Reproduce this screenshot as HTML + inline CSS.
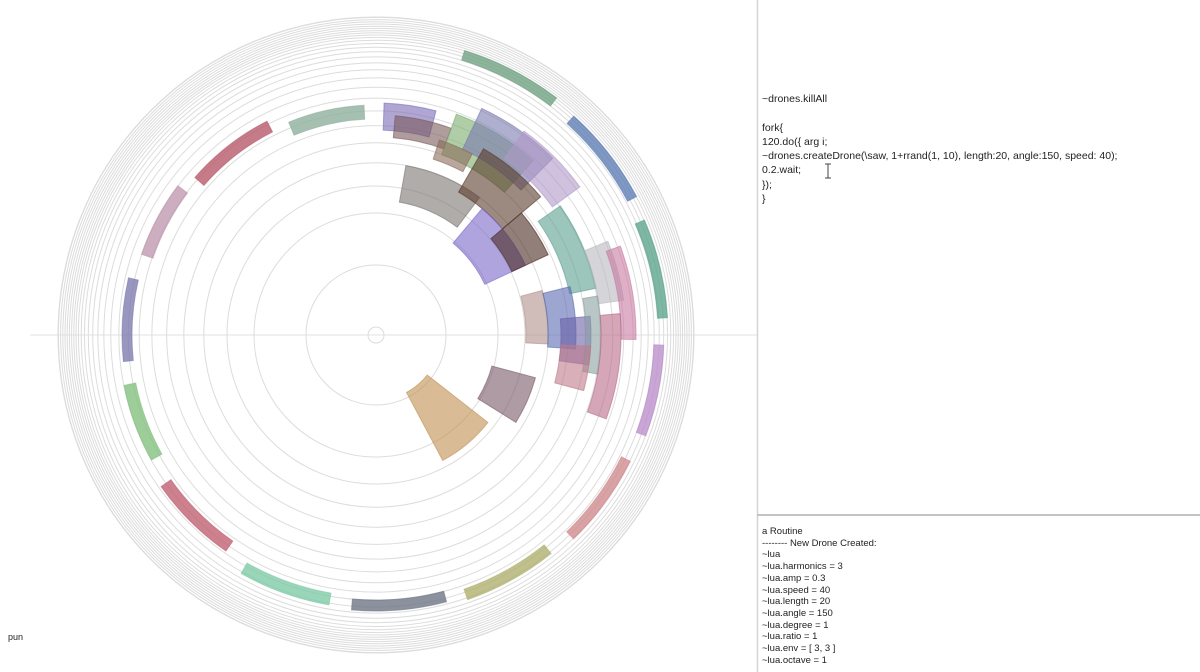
<!DOCTYPE html>
<html><head><meta charset="utf-8">
<style>
html,body{margin:0;padding:0;background:#fff;width:1200px;height:672px;overflow:hidden;font-family:"Liberation Sans",sans-serif;}
#wrap{position:relative;width:1200px;height:672px;}
.code{position:absolute;left:762px;font-size:10.5px;color:#222;line-height:14.3px;white-space:pre;}
.post{position:absolute;left:762px;top:526px;font-size:9.5px;color:#222;line-height:11.7px;white-space:pre;}
</style></head><body><div id="wrap">
<svg id="s" width="1200" height="672" style="position:absolute;left:0;top:0"></svg>
<div class="code" style="top:92px">~drones.killAll

fork{
120.do({ arg i;
~drones.createDrone(\saw, 1+rrand(1, 10), length:20, angle:150, speed: 40);
0.2.wait;
});
}</div>
<div class="post">a Routine
-------- New Drone Created:
~lua
~lua.harmonics = 3
~lua.amp = 0.3
~lua.speed = 40
~lua.length = 20
~lua.angle = 150
~lua.degree = 1
~lua.ratio = 1
~lua.env = [ 3, 3 ]
~lua.octave = 1</div>
<div style="position:absolute;left:8px;top:632px;font-size:9px;color:#222">pun</div>
</div>
<script>
var s=document.getElementById('s'),cx=376,cy=335,h='';
h+='<line x1="757.5" y1="0" x2="757.5" y2="672" stroke="#d4d4d4" stroke-width="1.5"/>';
h+='<line x1="757" y1="515" x2="1200" y2="515" stroke="#c4c4c4" stroke-width="2"/>';
h+='<line x1="30" y1="335" x2="757" y2="335" stroke="#e2e2e2" stroke-width="1"/>';
var radii=[8,70,122],r=122,d=27;
while(r<318){r+=d;d=Math.max(d*0.86,2.2);radii.push(Math.min(r,318));}
radii.forEach(function(R){h+='<circle cx="'+cx+'" cy="'+cy+'" r="'+R+'" fill="none" stroke="#dcdcdc" stroke-width="1"/>';});
function sec(a1,a2,r1,r2,c,o){
 var A=a1*Math.PI/180,B=a2*Math.PI/180;
 function p(r,a){return (cx+r*Math.cos(a)).toFixed(1)+' '+(cy+r*Math.sin(a)).toFixed(1);}
 var l=(a2-a1)>180?1:0;
 h+='<path d="M'+p(r1,A)+' L'+p(r2,A)+' A'+r2+' '+r2+' 0 '+l+' 1 '+p(r2,B)+' L'+p(r1,B)+' A'+r1+' '+r1+' 0 '+l+' 0 '+p(r1,A)+'Z" fill="'+c+'" fill-opacity="'+(o||0.65)+'" stroke="'+c+'" stroke-opacity="0.6" stroke-width="1"/>';
}
[[-72.7,-52.7,288,298,'#6fa283'],[-47.9,-28,285,295,'#5f7eb5'],[-23.2,-3.4,282,292,'#5fa58f'],
[2,20.5,278,288,'#bb90cc'],[26.4,45.9,274,284,'#d08c90'],[51.3,70.9,269,280,'#b0b070'],
[75.2,95.1,265,276,'#6f7785'],[99.9,119.5,262,274,'#80caa8'],[124.8,144.8,251,263,'#c06070'],
[150.9,168.7,245,257,'#85c080'],[174,193,244,254,'#7f7cb0'],[199,217,236,248,'#c098b0'],
[221,243,228,240,'#b85a6c'],[247.7,267,216,230,'#8fb09e']].forEach(function(a){sec(a[0],a[1],a[2],a[3],a[4],0.8);});
[[-80,-53,135,172,'#7a756f'],[-88,-75,205,232,'#7a6ab8'],[-85,-70,198,220,'#7a5a5a'],
[-70,-48,192,235,'#7aab6a'],[-65,-45,205,250,'#7a7ab0'],[-54,-36,218,252,'#b098c8'],
[-60,-40,165,215,'#5a3a2a'],[-50,-25,120,165,'#7a68c8'],[-40,-25,150,190,'#4a2a22'],
[-35,-12,198,225,'#5aa08f'],[-22,-8,225,250,'#b8b8c0'],[-20,1,245,260,'#c87aa0'],
[-15,3,150,172,'#b09088'],[-14,4,172,200,'#5a6ab0'],[-5,8,185,215,'#6a60a8'],
[-10,10,210,225,'#88a0a0'],[3,15,185,215,'#c07a8a'],[-5,20,225,245,'#b86a88'],
[15,32,120,165,'#7a5868'],[38,62,65,142,'#c09050'],[-72,-62,185,205,'#8a6a5a']].forEach(function(a){sec(a[0],a[1],a[2],a[3],a[4],0.6);});
h+='<line x1="828" y1="164" x2="828" y2="178" stroke="#444" stroke-width="1"/><line x1="825" y1="164" x2="831" y2="164" stroke="#444"/><line x1="825" y1="178" x2="831" y2="178" stroke="#444"/>';
s.innerHTML=h;
</script>
</body></html>
